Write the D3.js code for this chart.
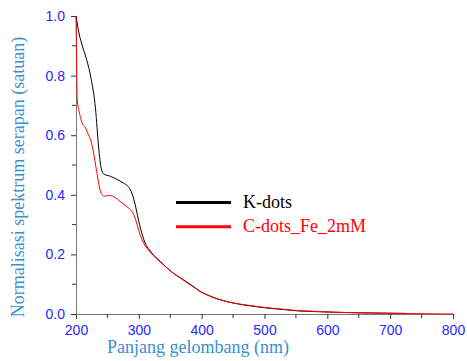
<!DOCTYPE html>
<html>
<head>
<meta charset="utf-8">
<script src="https://cdn.jsdelivr.net/npm/d3@7/dist/d3.min.js"></script>
<style>
  html, body { margin: 0; padding: 0; background: #fff; }
  svg { display: block; }
</style>
</head>
<body>
<svg id="chart" width="467" height="361"></svg>
<script>
// ---- data ----
const kdotsNm  = [200,205,210,217,224,231,236,240,244,255,265,275,283,288,292,296,300,305,310,317,323,335,350,371,385,398,420,450,475,500,530,556,580,610,650,690,725];
const kdotsVal = [1.0,0.94,0.90,0.853,0.79,0.69,0.56,0.49,0.47,0.462,0.452,0.44,0.428,0.41,0.385,0.35,0.31,0.27,0.238,0.215,0.199,0.175,0.145,0.115,0.095,0.076,0.055,0.037,0.028,0.021,0.015,0.010,0.008,0.006,0.004,0.003,0.002];

const cdotsNm  = [200,201,202,205,209,215,220,224,228,232,236,240,245,252,258,263,270,278,284,289,294,300,305,310,317,323,335,350,371,385,398,420,450,475,500,530,556,580,610,650,700,750,800];
const cdotsVal = [1.0,0.85,0.72,0.68,0.645,0.625,0.60,0.58,0.54,0.49,0.44,0.405,0.395,0.398,0.396,0.39,0.378,0.365,0.355,0.345,0.322,0.28,0.25,0.23,0.21,0.196,0.173,0.145,0.113,0.093,0.075,0.054,0.037,0.029,0.022,0.016,0.011,0.009,0.006,0.004,0.002,0.001,0.0];

const seriesNames = ["K-dots", "C-dots_Fe_2mM"];
const seriesColors = ["#000000", "#ff0000"];
const xTicks = [200,300,400,500,600,700,800];
const yTicks = [0.0,0.2,0.4,0.6,0.8,1.0];
const xTitle = "Panjang gelombang (nm)";
const yTitle = "Normalisasi spektrum serapan (satuan)";

// ---- layout ----
const svg = d3.select("#chart");
const L = 76, R = 453, T = 16, B = 314;
const x = d3.scaleLinear().domain([200, 800]).range([L, R]);
const y = d3.scaleLinear().domain([0, 1]).range([B, T]);

const tickColor = "#2828ff";
const titleColor = "#3a8fcf";
const serif = "'Liberation Serif', 'Times New Roman', Times, serif";

// minor ticks
const xMinor = d3.range(250, 800, 100);
const yMinor = d3.range(0.1, 1.0, 0.2);

// x axis
const gx = svg.append("g").attr("transform", `translate(0,${B})`)
  .call(d3.axisBottom(x).tickValues(xTicks).tickSize(5).tickSizeOuter(0).tickFormat(d3.format("d")));
gx.select(".domain").attr("stroke", "#777");
gx.selectAll(".tick line").attr("stroke", "#333");
gx.selectAll(".tick text").attr("fill", tickColor).attr("font-family", "Arial, 'Liberation Sans', sans-serif").attr("font-size", 14).attr("dy", "0.95em");
svg.append("g").attr("transform", `translate(0,${B})`)
  .selectAll("line").data(xMinor).join("line")
  .attr("x1", d => x(d)).attr("x2", d => x(d)).attr("y1", 0).attr("y2", 4).attr("stroke", "#333");

// y axis
const gy = svg.append("g").attr("transform", `translate(${L},0)`)
  .call(d3.axisLeft(y).tickValues(yTicks).tickSize(5).tickSizeOuter(0).tickFormat(d3.format(".1f")));
gy.select(".domain").attr("stroke", "#777");
gy.selectAll(".tick line").attr("stroke", "#333");
gy.selectAll(".tick text").attr("fill", tickColor).attr("font-family", "Arial, 'Liberation Sans', sans-serif").attr("font-size", 14).attr("x", -11);
svg.append("g").attr("transform", `translate(${L},0)`)
  .selectAll("line").data(yMinor).join("line")
  .attr("x1", -4).attr("x2", 0).attr("y1", d => y(d)).attr("y2", d => y(d)).attr("stroke", "#333");

// lines
const line = d3.line().x(d => x(d[0])).y(d => y(d[1])).curve(d3.curveMonotoneX);
const kData = kdotsNm.map((n, i) => [n, kdotsVal[i]]);
const cData = cdotsNm.map((n, i) => [n, cdotsVal[i]]);
svg.append("path").datum(kData).attr("d", line).attr("fill", "none").attr("stroke", seriesColors[0]).attr("stroke-width", 1);
svg.append("path").datum(cData).attr("d", line).attr("fill", "none").attr("stroke", seriesColors[1]).attr("stroke-width", 1);

// legend
const leg = svg.append("g");
seriesNames.forEach((name, i) => {
  const yy = 202.5 + i * 24.3;
  leg.append("line").attr("x1", 176).attr("x2", 231).attr("y1", yy).attr("y2", yy)
    .attr("stroke", seriesColors[i]).attr("stroke-width", 3);
  leg.append("text").attr("x", 243).attr("y", yy + 5.5)
    .attr("fill", seriesColors[i]).attr("font-family", serif)
    .attr("font-size", 18).text(name);
});

// titles
svg.append("text").attr("x", 198).attr("y", 353).attr("text-anchor", "middle")
  .attr("fill", titleColor).attr("font-family", serif)
  .attr("font-size", 18).text(xTitle);
svg.append("text").attr("transform", "translate(24,177) rotate(-90)").attr("text-anchor", "middle")
  .attr("fill", titleColor).attr("font-family", serif)
  .attr("font-size", 18).text(yTitle);
</script>
</body>
</html>
